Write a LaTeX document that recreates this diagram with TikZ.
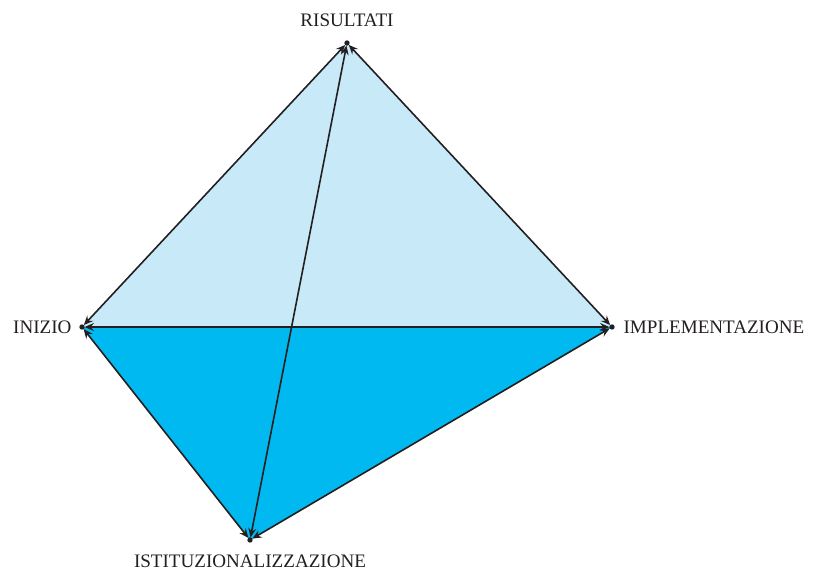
\documentclass[tikz,border=0pt]{standalone}
\usepackage{fontspec}
\setmainfont{Liberation Serif}
\usepackage{xcolor}
\usetikzlibrary{arrows.meta}
\definecolor{paleblu}{HTML}{C8E9F8}
\definecolor{ciano}{HTML}{00B9F1}
\definecolor{linea}{HTML}{231F20}
\begin{document}
\begin{tikzpicture}[x=0.75pt, y=-0.75pt,
  lab/.style={font=\fontsize{14.3}{16}\selectfont, inner sep=1pt, text=linea},
  ed/.style={<->, draw=linea, line width=1.2pt, shorten <=2pt, shorten >=2pt},
  >={Stealth[length=7pt, width=6pt, inset=2.5pt]}]
\useasboundingbox (0,0) rectangle (813,570);
\coordinate (R) at (347,43);
\coordinate (I) at (82,327);
\coordinate (P) at (612,327);
\coordinate (S) at (250,540);
\fill[paleblu] (R)--(I)--(P)--cycle;
\fill[ciano] (I)--(P)--(S)--cycle;
\draw[ed] (R)--(I);
\draw[ed] (R)--(P);
\draw[ed] (I)--(P);
\draw[ed] (I)--(S);
\draw[ed] (S)--(P);
\draw[ed] (S)--(R);
\foreach \v in {R,I,P,S} \fill[linea] (\v) circle (2pt);
\node[lab] (tR) at (347,20) {RISULTATI};
\node[lab, left] (tI) at (73,327) {INIZIO};
\node[lab, right] (tP) at (622,327) {IMPLEMENTAZIONE};
\node[lab] (tS) at (250,561) {ISTITUZIONALIZZAZIONE};
\end{tikzpicture}
\end{document}
